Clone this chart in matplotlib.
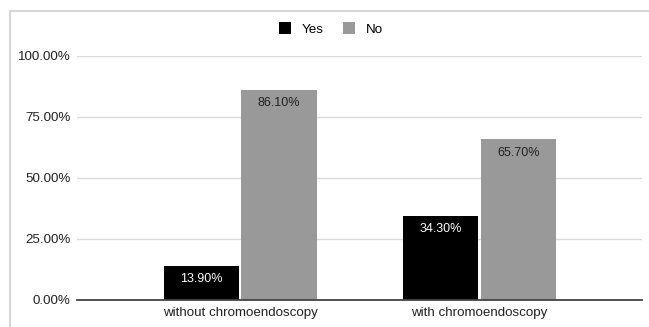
import matplotlib.pyplot as plt
import matplotlib.patches as mpatches
import numpy as np

plt.rcParams['font.family'] = ['Liberation Sans', 'DejaVu Sans']

categories = ['without chromoendoscopy', 'with chromoendoscopy']
yes_vals = [13.90, 34.30]
no_vals = [86.10, 65.70]
yticks = [0, 25, 50, 75, 100]

W, H = 649, 327
fig = plt.figure(figsize=(W / 100, H / 100), dpi=100)
ax = fig.add_axes([77 / W, 27 / H, 565 / W, 244.3 / H])

# outer frame of the chart card (only top and left edges fall inside the image)
fig.patches.append(mpatches.Rectangle((9.5 / W, -0.1), 1.0, (H - 10.5) / H + 0.1,
                                      transform=fig.transFigure, fill=False,
                                      edgecolor='#d2d2d2', linewidth=1.3))

x = np.arange(len(categories))
w = 0.315
gap = 0.005
b1 = ax.bar(x - w / 2 - gap, yes_vals, w, color='#000000', label='Yes', zorder=3)
b2 = ax.bar(x + w / 2 + gap, no_vals, w, color='#999999', label='No', zorder=3)

for rect, v in zip(b1, yes_vals):
    ax.text(rect.get_x() + rect.get_width() / 2, v - 5.4, f'{v:.2f}%',
            ha='center', va='center', color='white', fontsize=9, zorder=4)
for rect, v in zip(b2, no_vals):
    ax.text(rect.get_x() + rect.get_width() / 2, v - 5.4, f'{v:.2f}%',
            ha='center', va='center', color='#222222', fontsize=9, zorder=4)

ax.set_xlim(-0.682, 1.678)
ax.set_ylim(0, 100)
ax.set_yticks(yticks)
ax.set_yticklabels([f'{t:.2f}%' for t in yticks], fontsize=9.6, color='#222222')
ax.set_xticks(x)
ax.set_xticklabels(categories, fontsize=9.6, color='#222222')
ax.tick_params(axis='y', length=0, pad=4.5)
ax.tick_params(axis='x', length=0, pad=5)
ax.grid(axis='y', color='#dadada', linewidth=1, zorder=0)
for s in ['top', 'right', 'left']:
    ax.spines[s].set_visible(False)
ax.spines['bottom'].set_color('#444444')
ax.spines['bottom'].set_linewidth(1.3)
ax.spines['bottom'].set_zorder(5)

fig.legend(handles=[b1, b2], labels=['Yes', 'No'], loc='center',
           bbox_to_anchor=(331 / W, 1 - 29 / H), ncol=2, frameon=False,
           fontsize=9.6, handlelength=0.9, handleheight=0.9, columnspacing=1.5,
           handletextpad=0.8)

fig.savefig('out.png', dpi=100)
